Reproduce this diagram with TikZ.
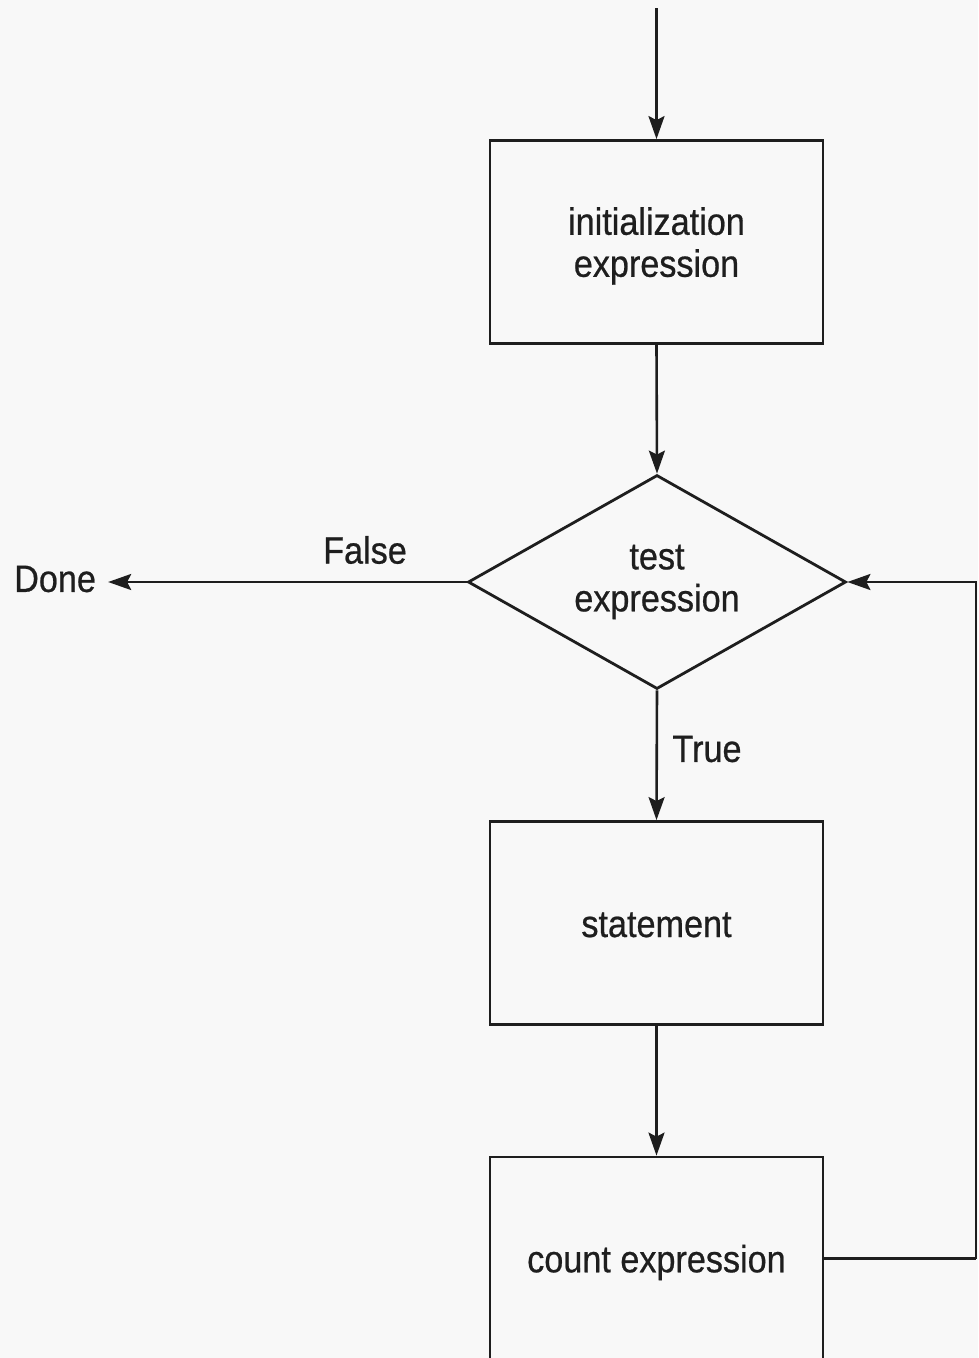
\documentclass[tikz,border=0pt]{standalone}
\usepackage{fontspec}
\setmainfont{Liberation Sans}[FakeStretch=0.9,FakeBold=0.6]
\usetikzlibrary{shapes.geometric,arrows.meta}
\definecolor{paper}{HTML}{F8F8F8}
\definecolor{ink}{HTML}{1E1E1E}
\begin{document}
\begin{tikzpicture}[x=1pt,y=-1pt,
  every node/.style={text=ink,font=\fontsize{38}{42}\selectfont},
  procbox/.style={draw=ink,line width=2.8pt,rectangle,minimum width=333pt,minimum height=203pt,align=center,inner sep=0pt,text depth=0pt},
  decision/.style={draw=ink,line width=2.8pt,diamond,minimum width=378pt,minimum height=214pt,aspect=1.77,align=center,inner sep=0pt},
  flow/.style={draw=ink,line width=2.6pt,-{Stealth[length=23pt,width=16pt,inset=4pt]}},
  plain/.style={draw=ink,line width=2.6pt}]
  \clip (0,0) rectangle (978,1358);
  \fill[paper] (0,0) rectangle (978,1358);

  % flowchart nodes
  \coordinate (entry) at (656.5,8);
  \node[procbox] (init) at (656.5,242) {initialization\\expression};
  \node[decision] (test) at (657,582) {test\\expression};
  \node[procbox,text height=28pt] (stmt) at (656.5,923) {statement};
  \node[procbox] (count) at (656.5,1258.5) {count expression};
  \node[anchor=west,inner sep=0pt] (done) at (14,579) {Done};
  \node (false) at (365,550) {False};
  \node (true) at (707,749) {True};
  \coordinate (loop) at (976,1258.5);

  % connectors
  \draw[flow] (entry) -- (init.north);
  \draw[flow] (init.south) -- (test.north);
  \draw[flow] (test.west) -- ([xshift=12pt]done.east |- test.west);
  \draw[flow] (test.south) -- (stmt.north);
  \draw[flow] (stmt.south) -- (count.north);
  \draw[plain] (count.east) -- (loop);
  \draw[flow] (loop) |- (test.east);
\end{tikzpicture}
\end{document}
